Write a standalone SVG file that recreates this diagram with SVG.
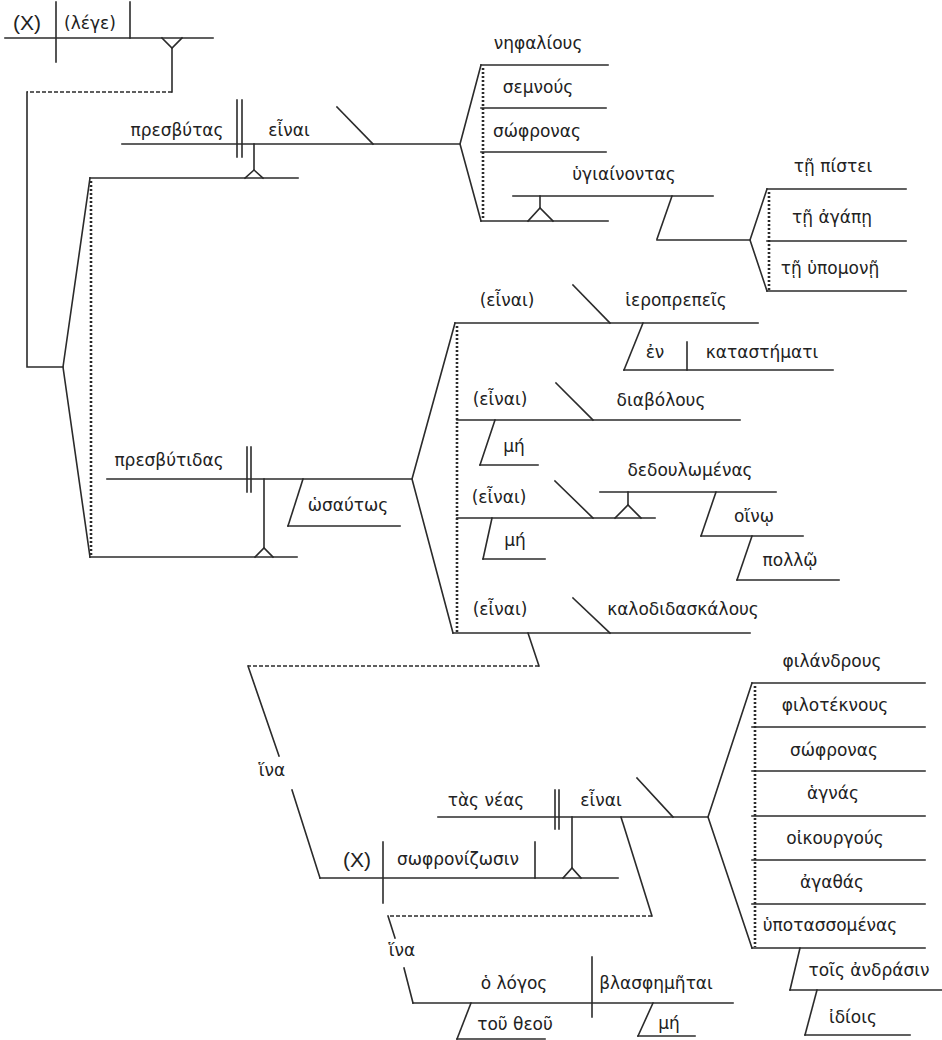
<svg xmlns="http://www.w3.org/2000/svg" width="942" height="1040" viewBox="0 0 942 1040">
<style>
.l{stroke:#2b2b2b;stroke-width:1.6;fill:none;stroke-linecap:square}
.d{stroke:#2b2b2b;stroke-width:1.6;fill:none;stroke-dasharray:4 2}
.o{stroke:#2b2b2b;stroke-width:2.6;fill:none;stroke-dasharray:2 2}
text{font-family:"DejaVu Sans","Noto Sans",sans-serif;font-size:17px;fill:#222;text-anchor:middle}
.x{font-family:"Liberation Sans",Arial,sans-serif;font-size:21px}
</style>
<rect width="942" height="1040" fill="#fff"/>
<g id="connectors">
<polyline class="l" points="162,38 172,48 182,38"/>
<line class="l" x1="172" y1="48" x2="172" y2="92"/>
<line class="d" x1="172" y1="92" x2="27" y2="92"/>
<polyline class="l" points="27,92 27,367 63,367"/>
<polyline class="l" points="90,178 63,367 90,557"/>
<line class="o" x1="91" y1="181" x2="91" y2="555"/>
<line class="l" x1="254" y1="144" x2="254" y2="170"/>
<polyline class="l" points="245,178 254,170 263,178"/>
<polyline class="l" points="481,65 460,144 481,221"/>
<line class="o" x1="483" y1="68" x2="483" y2="220"/>
<line class="l" x1="540" y1="196" x2="540" y2="208"/>
<polyline class="l" points="528,221 540,208 553,221"/>
<polyline class="l" points="767,189 750,240 767,291"/>
<line class="o" x1="769" y1="192" x2="769" y2="290"/>
<line class="l" x1="264" y1="479" x2="264" y2="548"/>
<polyline class="l" points="255,557 264,548 273,557"/>
<polyline class="l" points="455,323 412,479 453,633"/>
<line class="o" x1="457" y1="326" x2="457" y2="632"/>
<line class="l" x1="628" y1="492" x2="628" y2="505"/>
<polyline class="l" points="615,518 628,505 641,518"/>
<line class="l" x1="528" y1="633" x2="539" y2="666"/>
<line class="d" x1="539" y1="666" x2="248" y2="666"/>
<line class="l" x1="248" y1="666" x2="279" y2="756"/>
<line class="l" x1="292" y1="790" x2="320" y2="878"/>
<line class="l" x1="572" y1="817" x2="572" y2="868"/>
<polyline class="l" points="563,878 572,868 581,878"/>
<line class="l" x1="621" y1="817" x2="652" y2="916"/>
<line class="d" x1="652" y1="916" x2="388" y2="916"/>
<line class="l" x1="388" y1="916" x2="395" y2="938"/>
<line class="l" x1="404" y1="968" x2="413" y2="1003"/>
<polyline class="l" points="752,683 708,817 752,948"/>
<line class="o" x1="755" y1="686" x2="755" y2="947"/>
</g>
<g id="clause-lege">
<line class="l" x1="5" y1="38" x2="213" y2="38"/>
<line class="l" x1="56" y1="2" x2="56" y2="62"/>
<line class="l" x1="130" y1="2" x2="130" y2="38"/>
<text class="x" x="27" y="30">(X)</text>
<text x="90" y="29">(λέγε)</text>
</g>
<g id="clause-presbutas">
<line class="l" x1="122" y1="144" x2="460" y2="144"/>
<line class="l" x1="237" y1="100" x2="237" y2="157"/>
<line class="l" x1="242" y1="100" x2="242" y2="157"/>
<line class="l" x1="337" y1="107" x2="373" y2="144"/>
<line class="l" x1="90" y1="178" x2="298" y2="178"/>
<text x="177" y="136">πρεσβύτας</text>
<text x="289" y="136">εἶναι</text>
</g>
<g id="pred-presbutas">
<line class="l" x1="481" y1="65" x2="608" y2="65"/>
<line class="l" x1="481" y1="108" x2="606" y2="108"/>
<line class="l" x1="481" y1="152" x2="606" y2="152"/>
<line class="l" x1="481" y1="221" x2="608" y2="221"/>
<text x="538" y="49">νηφαλίους</text>
<text x="538" y="93">σεμνούς</text>
<text x="537" y="137">σώφρονας</text>
</g>
<g id="ygiainontas">
<line class="l" x1="513" y1="196" x2="713" y2="196"/>
<line class="l" x1="672" y1="196" x2="657" y2="239"/>
<line class="l" x1="657" y1="240" x2="750" y2="240"/>
<text x="624" y="180">ὑγιαίνοντας</text>
</g>
<g id="datives">
<line class="l" x1="767" y1="189" x2="906" y2="189"/>
<line class="l" x1="767" y1="241" x2="906" y2="241"/>
<line class="l" x1="767" y1="291" x2="906" y2="291"/>
<text x="833" y="172">τῇ πίστει</text>
<text x="832" y="223">τῇ ἀγάπῃ</text>
<text x="830" y="274">τῇ ὑπομονῇ</text>
</g>
<g id="clause-presbutidas">
<line class="l" x1="107" y1="479" x2="412" y2="479"/>
<line class="l" x1="247" y1="447" x2="247" y2="492"/>
<line class="l" x1="251" y1="447" x2="251" y2="492"/>
<line class="l" x1="90" y1="557" x2="297" y2="557"/>
<line class="l" x1="303" y1="479" x2="288" y2="526"/>
<line class="l" x1="288" y1="526" x2="400" y2="526"/>
<text x="169" y="466">πρεσβύτιδας</text>
<text x="348" y="511">ὡσαύτως</text>
</g>
<g id="pred-ieroprepeis">
<line class="l" x1="455" y1="323" x2="758" y2="323"/>
<line class="l" x1="573" y1="285" x2="610" y2="323"/>
<line class="l" x1="643" y1="323" x2="624" y2="370"/>
<line class="l" x1="624" y1="370" x2="833" y2="370"/>
<line class="l" x1="687" y1="342" x2="687" y2="370"/>
<text x="507" y="306">(εἶναι)</text>
<text x="676" y="306">ἱεροπρεπεῖς</text>
<text x="655" y="358">ἐν</text>
<text x="762" y="358">καταστήματι</text>
</g>
<g id="pred-diabolous">
<line class="l" x1="457" y1="420" x2="740" y2="420"/>
<line class="l" x1="556" y1="383" x2="593" y2="420"/>
<line class="l" x1="495" y1="420" x2="480" y2="465"/>
<line class="l" x1="480" y1="465" x2="538" y2="465"/>
<text x="500" y="405">(εἶναι)</text>
<text x="661" y="406">διαβόλους</text>
<text x="514" y="452">μή</text>
</g>
<g id="pred-dedoulomenas">
<line class="l" x1="457" y1="518" x2="655" y2="518"/>
<line class="l" x1="555" y1="481" x2="593" y2="518"/>
<line class="l" x1="492" y1="518" x2="483" y2="559"/>
<line class="l" x1="483" y1="559" x2="545" y2="559"/>
<line class="l" x1="600" y1="492" x2="776" y2="492"/>
<line class="l" x1="716" y1="492" x2="701" y2="536"/>
<line class="l" x1="701" y1="536" x2="803" y2="536"/>
<line class="l" x1="752" y1="536" x2="737" y2="580"/>
<line class="l" x1="737" y1="580" x2="839" y2="580"/>
<text x="499" y="503">(εἶναι)</text>
<text x="690" y="476">δεδουλωμένας</text>
<text x="515" y="546">μή</text>
<text x="754" y="522">οἴνῳ</text>
<text x="790" y="566">πολλῷ</text>
</g>
<g id="pred-kalodidaskalous">
<line class="l" x1="453" y1="633" x2="750" y2="633"/>
<line class="l" x1="573" y1="598" x2="610" y2="633"/>
<text x="500" y="615">(εἶναι)</text>
<text x="683" y="615">καλοδιδασκάλους</text>
</g>
<g id="hina-1">
<text x="272" y="776">ἵνα</text>
</g>
<g id="clause-sophronizosin">
<line class="l" x1="320" y1="878" x2="618" y2="878"/>
<line class="l" x1="383" y1="842" x2="383" y2="903"/>
<line class="l" x1="535" y1="842" x2="535" y2="878"/>
<text class="x" x="357" y="867">(X)</text>
<text x="458" y="865">σωφρονίζωσιν</text>
</g>
<g id="clause-neas">
<line class="l" x1="438" y1="817" x2="708" y2="817"/>
<line class="l" x1="555" y1="790" x2="555" y2="829"/>
<line class="l" x1="559" y1="790" x2="559" y2="829"/>
<line class="l" x1="637" y1="778" x2="673" y2="817"/>
<text x="486" y="806">τὰς νέας</text>
<text x="601" y="806">εἶναι</text>
</g>
<g id="pred-neas">
<line class="l" x1="752" y1="683" x2="925" y2="683"/>
<line class="l" x1="752" y1="727" x2="925" y2="727"/>
<line class="l" x1="752" y1="771" x2="925" y2="771"/>
<line class="l" x1="752" y1="816" x2="925" y2="816"/>
<line class="l" x1="752" y1="860" x2="925" y2="860"/>
<line class="l" x1="752" y1="904" x2="925" y2="904"/>
<line class="l" x1="752" y1="948" x2="925" y2="948"/>
<text x="832" y="667">φιλάνδρους</text>
<text x="835" y="711">φιλοτέκνους</text>
<text x="834" y="756">σώφρονας</text>
<text x="833" y="799">ἁγνάς</text>
<text x="835" y="844">οἰκουργούς</text>
<text x="832" y="888">ἀγαθάς</text>
<text x="830" y="931">ὑποτασσομένας</text>
</g>
<g id="andrasin">
<line class="l" x1="800" y1="948" x2="790" y2="990"/>
<line class="l" x1="790" y1="990" x2="942" y2="990"/>
<line class="l" x1="817" y1="990" x2="805" y2="1035"/>
<line class="l" x1="805" y1="1035" x2="910" y2="1035"/>
<text x="869" y="976">τοῖς ἀνδράσιν</text>
<text x="853" y="1023">ἰδίοις</text>
</g>
<g id="hina-2">
<text x="402" y="956">ἵνα</text>
</g>
<g id="clause-logos">
<line class="l" x1="413" y1="1003" x2="733" y2="1003"/>
<line class="l" x1="592" y1="957" x2="592" y2="1017"/>
<line class="l" x1="471" y1="1003" x2="457" y2="1039"/>
<line class="l" x1="457" y1="1039" x2="545" y2="1039"/>
<line class="l" x1="653" y1="1003" x2="638" y2="1036"/>
<line class="l" x1="638" y1="1036" x2="695" y2="1036"/>
<text x="514" y="989">ὁ λόγος</text>
<text x="656" y="989">βλασφημῆται</text>
<text x="515" y="1030">τοῦ θεοῦ</text>
<text x="669" y="1029">μή</text>
</g>
</svg>
